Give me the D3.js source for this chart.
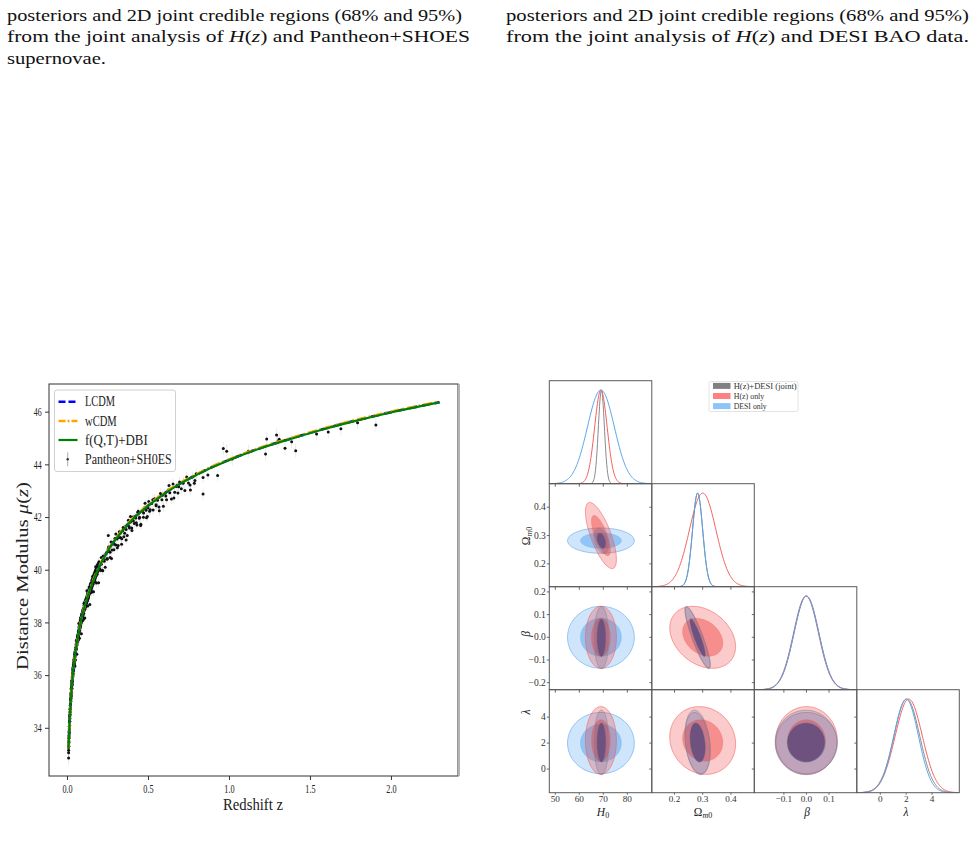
<!DOCTYPE html>
<html lang="en">
<head>
<meta charset="UTF-8">
<title>Distance modulus and posterior corner plot</title>
<script src="https://unpkg.com/d3@7.8.0/dist/d3.min.js"></script>
<style>
  body { margin: 0; background: #fff; }
  svg { display: block; }
</style>
</head>
<body>
<script>
// ---------- page text ----------
const captionLeft = [
  'posteriors and 2D joint credible regions (68% and 95%)',
  'from the joint analysis of H(z) and Pantheon+SHOES',
  'supernovae.'
];
const captionRight = [
  'posteriors and 2D joint credible regions (68% and 95%)',
  'from the joint analysis of H(z) and DESI BAO data.'
];

// ---------- distance modulus chart ----------
const modelZ = [0.01, 0.015, 0.02, 0.03, 0.04, 0.05, 0.07, 0.1, 0.15, 0.2, 0.25, 0.3, 0.4, 0.5, 0.6, 0.7, 0.8, 0.9, 1.0, 1.2, 1.4, 1.6, 1.8, 2.0, 2.3];
const muLCDM = [33.2, 34.09, 34.73, 35.63, 36.28, 36.78, 37.56, 38.41, 39.4, 40.13, 40.71, 41.16, 41.89, 42.43, 42.89, 43.28, 43.61, 43.91, 44.17, 44.63, 45.01, 45.37, 45.69, 45.98, 46.36];
const muWCDM = [33.2, 34.09, 34.73, 35.64, 36.29, 36.79, 37.57, 38.42, 39.41, 40.14, 40.72, 41.17, 41.91, 42.45, 42.91, 43.3, 43.63, 43.93, 44.19, 44.65, 45.03, 45.39, 45.71, 46.0, 46.38];
const muFQT = [33.2, 34.09, 34.73, 35.63, 36.28, 36.78, 37.56, 38.4, 39.39, 40.12, 40.7, 41.15, 41.88, 42.42, 42.88, 43.27, 43.6, 43.9, 44.16, 44.62, 45.0, 45.36, 45.68, 45.97, 46.35];
const modelNames = ['LCDM', 'wCDM', 'f(Q,T)+DBI'];
const zTicks = [0, 0.5, 1.0, 1.5, 2.0];
const muTicks = [34, 36, 38, 40, 42, 44, 46];

// Pantheon+SH0ES points: [z, mu, sigma_mu]
const pantheon = [
  [0.010,33.05,.25],[0.010,32.85,.25],[0.010,33.3,.25],[0.010,33.15,.25],[0.011,33.5,.25],[0.011,33.3,.25],
  [0.012,33.7,.25],[0.012,33.45,.25],[0.012,33.6,.25],[0.013,33.85,.25],[0.013,33.65,.25],[0.014,34.05,.25],
  [0.014,33.8,.25],[0.014,33.95,.25],[0.015,34.2,.25],[0.015,33.95,.25],[0.016,34.35,.25],[0.016,34.1,.25],
  [0.016,34.25,.25],[0.017,34.45,.25],[0.017,34.25,.25],[0.018,34.6,.25],[0.018,34.35,.25],[0.018,34.5,.25],
  [0.019,34.7,.25],[0.019,34.5,.25],[0.020,34.85,.25],[0.020,34.6,.25],[0.020,34.75,.25],[0.021,34.9,.25],
  [0.021,34.7,.25],[0.022,35.05,.25],[0.022,34.8,.25],[0.022,34.95,.25],[0.023,35.1,.25],[0.023,34.9,.25],
  [0.024,35.25,.25],[0.024,35.0,.25],[0.024,35.15,.25],[0.025,35.3,.25],[0.025,35.1,.25],[0.026,35.45,.25],
  [0.026,35.2,.25],[0.026,35.35,.25],[0.027,35.5,.25],[0.027,35.25,.25],[0.028,35.6,.25],[0.028,35.35,.25],
  [0.028,35.5,.25],[0.029,35.65,.25],[0.029,35.45,.25],[0.030,35.75,.25],[0.030,35.5,.25],[0.030,35.65,.25],
  [0.031,35.8,.25],[0.031,35.6,.25],[0.032,35.9,.25],[0.032,35.65,.25],[0.032,35.8,.25],[0.033,35.95,.25],
  [0.033,35.75,.25],[0.034,36.05,.25],[0.034,35.8,.25],[0.034,35.9,.25],[0.035,36.1,.25],[0.035,35.9,.25],
  [0.036,36.2,.25],[0.036,35.95,.25],[0.036,36.05,.25],[0.037,36.25,.25],[0.037,36.0,.25],[0.038,36.3,.25],
  [0.038,36.05,.25],[0.038,36.2,.25],[0.039,36.35,.25],[0.039,36.15,.25],[0.040,36.4,.25],[0.040,36.2,.25],
  [0.040,36.3,.25],[0.041,36.45,.25],[0.041,36.25,.25],[0.042,36.5,.25],[0.042,36.3,.25],[0.043,36.55,.25],
  [0.043,36.35,.25],[0.043,36.45,.25],[0.044,36.6,.25],[0.044,36.4,.25],[0.045,36.65,.25],[0.045,36.45,.25],
  [0.046,36.7,.25],[0.046,36.5,.25],[0.046,36.6,.25],[0.047,36.75,.25],[0.047,36.55,.25],[0.048,36.8,.25],
  [0.048,36.6,.25],[0.049,36.35,.25],[0.049,36.85,.25],[0.050,36.9,.2],[0.050,36.7,.2],[0.052,36.95,.2],
  [0.052,36.8,.2],[0.054,37.05,.2],[0.054,36.85,.2],[0.056,37.15,.2],[0.056,36.95,.2],[0.058,37.2,.2],
  [0.058,37.0,.2],[0.060,37.3,.2],[0.060,37.1,.2],[0.062,37.35,.2],[0.062,37.15,.2],[0.064,37.45,.2],
  [0.064,37.25,.2],[0.066,37.5,.2],[0.066,37.3,.2],[0.068,37.55,.2],[0.068,37.35,.2],[0.070,37.65,.2],
  [0.070,37.45,.2],[0.072,37.7,.2],[0.072,37.5,.2],[0.074,37.8,.2],[0.074,37.6,.2],[0.076,37.85,.2],
  [0.076,37.65,.2],[0.078,37.9,.2],[0.078,37.7,.2],[0.080,38.0,.2],[0.080,37.8,.2],[0.082,38.05,.2],
  [0.082,37.85,.2],[0.084,38.1,.2],[0.084,37.9,.2],[0.086,38.15,.2],[0.086,37.95,.2],[0.088,38.2,.2],
  [0.088,38.0,.2],[0.090,38.25,.2],[0.090,38.05,.2],[0.092,38.3,.2],[0.092,38.1,.2],[0.094,38.35,.2],
  [0.094,38.15,.2],[0.096,38.4,.2],[0.096,38.2,.2],[0.098,38.45,.2],[0.098,38.25,.2],[0.100,38.5,.18],
  [0.100,38.3,.18],[0.100,38.4,.18],[0.103,38.55,.18],[0.103,38.35,.18],[0.106,38.65,.18],[0.106,38.45,.18],
  [0.109,38.7,.18],[0.109,38.5,.18],[0.112,38.8,.18],[0.112,38.55,.18],[0.115,38.85,.18],[0.115,38.6,.18],
  [0.115,38.7,.18],[0.118,38.9,.18],[0.118,38.7,.18],[0.121,38.95,.18],[0.121,38.75,.18],[0.124,39.0,.18],
  [0.124,38.8,.18],[0.127,39.1,.18],[0.127,38.85,.18],[0.130,39.15,.18],[0.130,38.9,.18],[0.130,39.0,.18],
  [0.133,39.2,.18],[0.133,38.95,.18],[0.136,39.25,.18],[0.136,39.05,.18],[0.139,39.3,.18],[0.139,39.1,.18],
  [0.142,39.35,.18],[0.142,39.15,.18],[0.145,39.45,.18],[0.145,39.2,.18],[0.145,39.3,.18],[0.148,39.5,.18],
  [0.148,39.25,.18],[0.151,39.5,.16],[0.151,39.3,.16],[0.154,39.6,.16],[0.154,39.35,.16],[0.157,39.65,.16],
  [0.157,39.4,.16],[0.160,39.7,.16],[0.160,39.45,.16],[0.160,39.55,.16],[0.163,39.75,.16],[0.163,39.5,.16],
  [0.166,39.8,.16],[0.166,39.55,.16],[0.169,39.85,.16],[0.169,39.6,.16],[0.172,39.9,.16],[0.172,39.65,.16],
  [0.175,39.95,.16],[0.175,39.7,.16],[0.175,39.8,.16],[0.178,40.0,.16],[0.178,39.75,.16],[0.181,40.05,.16],
  [0.181,39.8,.16],[0.184,40.1,.16],[0.184,39.85,.16],[0.187,40.15,.16],[0.187,39.9,.16],[0.190,40.2,.16],
  [0.190,39.95,.16],[0.190,40.05,.16],[0.194,40.25,.16],[0.194,40.0,.16],[0.198,40.3,.16],[0.198,40.05,.16],
  [0.052,36.57,.2],[0.057,37.30,.2],[0.061,36.79,.2],[0.065,37.44,.2],[0.069,37.32,.2],[0.073,37.96,.2],
  [0.077,37.40,.2],[0.081,37.80,.2],[0.085,38.19,.2],[0.089,37.57,.2],[0.093,38.32,.2],[0.097,38.07,.2],
  [0.101,38.12,.18],[0.105,38.73,.18],[0.110,38.17,.18],[0.114,38.76,.18],[0.119,38.62,.18],[0.123,39.20,.18],
  [0.128,38.62,.18],[0.132,38.97,.18],[0.137,39.34,.18],[0.141,38.68,.18],[0.146,39.42,.18],[0.150,39.14,.18],
  [0.155,39.17,.16],[0.159,39.75,.16],[0.164,39.16,.16],[0.168,39.72,.16],[0.173,39.55,.16],[0.177,40.11,.16],
  [0.182,39.50,.16],[0.186,39.83,.16],[0.191,40.18,.16],[0.195,39.51,.16],
  [0.200,40.20,.15],[0.206,39.97,.15],[0.212,40.21,.15],[0.218,39.98,.15],[0.224,40.52,.15],[0.230,40.32,.15],
  [0.236,40.09,.15],[0.242,40.61,.15],[0.248,40.40,.15],[0.254,40.79,.15],[0.255,41.30,.15],[0.260,40.69,.15],
  [0.266,40.46,.15],[0.272,41.05,.15],[0.278,40.75,.15],[0.284,40.99,.15],[0.290,40.76,.15],[0.296,41.19,.15],
  [0.302,40.94,.15],[0.309,41.17,.15],[0.316,40.92,.15],[0.323,41.44,.15],[0.330,41.22,.15],[0.337,40.97,.15],
  [0.344,41.48,.15],[0.351,41.25,.15],[0.358,41.63,.15],[0.365,41.53,.15],[0.372,41.30,.15],[0.379,41.88,.15],
  [0.386,41.58,.15],[0.393,41.81,.15],[0.400,41.58,.15],[0.408,42.00,.15],[0.416,41.75,.15],[0.424,41.96,.15],
  [0.432,41.70,.15],[0.440,42.22,.15],[0.448,41.99,.15],[0.456,41.73,.15],[0.464,42.23,.15],[0.472,41.99,.15],
  [0.480,42.36,.15],[0.488,42.26,.15],[0.496,42.02,.15],[0.505,42.59,.2],[0.514,42.28,.2],[0.523,42.51,.2],
  [0.532,42.27,.2],[0.541,42.69,.2],[0.550,42.43,.2],[0.559,42.64,.2],[0.568,42.38,.2],[0.577,42.89,.2],
  [0.586,42.66,.2],[0.595,42.41,.2],[0.605,42.90,.2],[0.615,42.66,.2],[0.625,43.03,.2],[0.635,42.92,.2],
  [0.645,42.68,.2],[0.655,43.25,.2],[0.665,42.94,.2],[0.675,43.16,.2],[0.685,42.91,.2],[0.695,43.33,.2],
  [0.706,43.07,.2],[0.717,43.28,.2],[0.728,43.01,.2],[0.739,43.52,.2],[0.750,43.29,.2],[0.762,43.03,.2],
  [0.774,43.52,.2],[0.786,43.28,.2],[0.798,43.64,.2],
  [0.203,40.03,.15],[0.212,40.46,.15],[0.221,39.96,.15],[0.230,40.39,.15],[0.239,40.60,.15],[0.248,40.43,.15],
  [0.257,40.86,.15],[0.266,40.66,.15],[0.275,40.43,.15],[0.284,41.01,.15],[0.293,40.97,.15],[0.302,41.36,.15],
  [0.311,40.83,.15],[0.320,41.22,.15],[0.329,41.38,.15],[0.338,41.18,.15],[0.347,41.60,.15],[0.356,41.38,.15],
  [0.365,41.13,.15],[0.374,41.69,.15],[0.383,41.64,.15],[0.392,42.02,.15],[0.401,41.49,.15],[0.410,41.85,.15],
  [0.419,42.00,.15],[0.428,41.78,.15],[0.437,42.18,.15],[0.446,41.95,.15],[0.455,41.68,.15],[0.464,42.23,.15],
  [0.473,42.15,.15],[0.482,42.52,.15],[0.491,41.97,.15],[0.500,42.34,.2],
  [0.510,42.22,.2],[0.530,42.66,.2],[0.550,42.47,.2],[0.570,42.24,.2],[0.590,42.83,.2],[0.610,42.80,.2],
  [0.630,43.20,.2],[0.660,42.72,.2],[0.690,43.15,.2],[0.720,43.36,.2],[0.760,43.22,.2],[0.790,43.39,.2],
  [0.840,42.87,.2],[0.840,43.5,.2],[0.870,43.6,.2],[0.930,43.58,.2],[0.965,44.6,.25],[0.986,44.5,.25],
  [1.020,44.2,.25],[1.120,44.5,.25],[1.226,44.39,.25],[1.233,44.96,.25],[1.294,45.11,.25],[1.300,44.86,.25],
  [1.310,44.95,.25],[1.346,44.61,.25],[1.387,44.86,.25],[1.412,44.52,.25],[1.541,45.15,.25],[1.613,45.23,.25],
  [1.691,45.35,.25],[1.794,45.58,.25],[1.907,45.49,.25]
];

// ---------- corner plot ----------
const paramRanges = [[47.5, 90.2], [0.1195, 0.483], [-0.231, 0.223], [-1.82, 6.11]];
const xTickVals = [[50, 60, 70, 80], [0.2, 0.3, 0.4], [-0.1, 0.0, 0.1], [0, 2, 4]];
const yTickVals = [[], [0.2, 0.3, 0.4], [-0.2, -0.1, 0.0, 0.1, 0.2], [0, 2, 4]];
const runNames = ['H(z)+DESI (joint)', 'H(z) only', 'DESI only'];
const runMeans = [[69.2, 0.282, -0.002, 2.05], [69.0, 0.300, 0.0, 2.2], [69.0, 0.282, 0.0, 2.0]];
const runSigmas = [[1.25, 0.018, 0.055, 1.0], [2.6, 0.047, 0.055, 1.05], [5.6, 0.018, 0.055, 0.95]];
// correlations: H0-Om, H0-beta, H0-lambda, Om-beta, Om-lambda, beta-lambda
const runCorr = [[-0.35, 0, 0, -0.88, -0.25, 0], [-0.72, 0, 0, -0.3, -0.1, 0], [0, 0, 0, -0.9, -0.25, 0]];

// ---------- styles ----------
const serif = '"Liberation Serif", "Times New Roman", serif';
const modelStyle = [
  { color: '#0000ff', dash: '8,5', width: 2.6 },
  { color: '#ffa500', dash: '9,3,2,3', width: 2.6 },
  { color: '#008000', dash: null, width: 2.2 }
];
const runFill = ['#45407a', '#f03c3c', '#4aa0f0'];
const runLine = ['#8a8a8a', '#f25f5f', '#5aa2e8'];
const runAlpha = [[0.17, 0.62], [0.27, 0.42], [0.27, 0.46]];
const legendPatch = ['#808080', '#ff8080', '#8cc6f8'];

const svg = d3.select('body').append('svg').attr('width', 978).attr('height', 842);
svg.append('rect').attr('width', 978).attr('height', 842).attr('fill', '#fff');

drawCaption(captionLeft, 7, [455, 463, 99]);
drawCaption(captionRight, 506, [463, 463]);
drawHubble();
drawCorner();

function drawCaption(lines, x0, widths) {
  lines.forEach((line, i) => {
    const t = svg.append('text')
      .attr('x', x0).attr('y', 20.7 + i * 21.6)
      .attr('font-family', serif).attr('font-size', 17.5).attr('fill', '#111');
    line.split('H(z)').forEach((piece, k) => {
      if (k > 0) {
        t.append('tspan').attr('font-style', 'italic').text('H');
        t.append('tspan').text('(');
        t.append('tspan').attr('font-style', 'italic').text('z');
        t.append('tspan').text(')');
      }
      t.append('tspan').text(piece);
    });
    t.attr('textLength', widths[i]).attr('lengthAdjust', 'spacingAndGlyphs');
  });
}

function narrow(sel, factor) {
  // squeeze text horizontally like the reference figure
  sel.each(function () {
    const w = this.getComputedTextLength();
    d3.select(this).attr('textLength', w * factor).attr('lengthAdjust', 'spacingAndGlyphs');
  });
}

function drawHubble() {
  const m = { left: 49, top: 384, right: 458, bottom: 776 };
  const x = d3.scaleLinear().domain([-0.111, 2.414]).range([m.left, m.right]);
  const y = d3.scaleLinear().domain([32.17, 47.05]).range([m.bottom, m.top]);
  const g = svg.append('g');

  // x axis
  const xAxisG = g.append('g').attr('transform', `translate(0,${m.bottom})`)
    .call(d3.axisBottom(x).tickValues(zTicks).tickFormat(d3.format('.1f'))
      .tickSize(4).tickPadding(4).tickSizeOuter(0));
  xAxisG.selectAll('.tick text')
    .attr('font-family', serif).attr('font-size', 12).attr('fill', '#222');
  narrow(xAxisG.selectAll('.tick text'), 0.68);

  // y axis
  const yAxisG = g.append('g').attr('transform', `translate(${m.left},0)`)
    .call(d3.axisLeft(y).tickValues(muTicks).tickFormat(d3.format('d'))
      .tickSize(4).tickPadding(3.3).tickSizeOuter(0));
  yAxisG.selectAll('.tick text')
    .attr('font-family', serif).attr('font-size', 12).attr('fill', '#222');
  narrow(yAxisG.selectAll('.tick text'), 0.66);
  g.selectAll('.tick line').attr('stroke', '#333');
  g.selectAll('.domain').attr('stroke', 'none');

  // data with error bars
  const pts = g.append('g');
  pts.selectAll('line').data(pantheon).join('line')
    .attr('x1', d => x(d[0])).attr('x2', d => x(d[0]))
    .attr('y1', d => y(d[1] - d[2])).attr('y2', d => y(d[1] + d[2]))
    .attr('stroke', '#a0a0a0').attr('stroke-width', 0.5).attr('stroke-opacity', 0.45);
  pts.selectAll('circle').data(pantheon).join('circle')
    .attr('cx', d => x(d[0])).attr('cy', d => y(d[1])).attr('r', 1.5)
    .attr('fill', '#111');

  // model curves
  const line = d3.line().x(d => x(d[0])).y(d => y(d[1])).curve(d3.curveMonotoneX);
  [muLCDM, muWCDM, muFQT].forEach((mu, k) => {
    g.append('path').datum(modelZ.map((z, i) => [z, mu[i]]))
      .attr('d', line).attr('fill', 'none')
      .attr('stroke', modelStyle[k].color).attr('stroke-width', modelStyle[k].width)
      .attr('stroke-dasharray', modelStyle[k].dash);
  });

  // frame
  g.append('rect').attr('x', m.left).attr('y', m.top)
    .attr('width', m.right - m.left).attr('height', m.bottom - m.top)
    .attr('fill', 'none').attr('stroke', '#333').attr('stroke-width', 1);
  g.append('line').attr('x1', m.right + 1).attr('x2', m.right + 1)
    .attr('y1', m.top).attr('y2', m.bottom)
    .attr('stroke', '#b4b4b4').attr('stroke-width', 2);

  // axis labels
  g.append('text').attr('x', 253).attr('y', 810).attr('text-anchor', 'middle')
    .attr('font-family', serif).attr('font-size', 17.5).attr('fill', '#222')
    .attr('textLength', 60).attr('lengthAdjust', 'spacingAndGlyphs')
    .text('Redshift z');
  const yl = g.append('text').attr('transform', 'translate(28,576) rotate(-90)')
    .attr('text-anchor', 'middle')
    .attr('font-family', serif).attr('font-size', 17.5).attr('fill', '#222')
    .attr('textLength', 188).attr('lengthAdjust', 'spacingAndGlyphs');
  yl.append('tspan').text('Distance Modulus ');
  yl.append('tspan').attr('font-style', 'italic').text('μ');
  yl.append('tspan').text('(');
  yl.append('tspan').attr('font-style', 'italic').text('z');
  yl.append('tspan').text(')');

  // legend
  const lg = g.append('g');
  lg.append('rect').attr('x', 54.5).attr('y', 390).attr('width', 121).attr('height', 81.5)
    .attr('rx', 2.5).attr('fill', '#fff').attr('fill-opacity', 0.85)
    .attr('stroke', '#d0d0d0').attr('stroke-width', 1);
  const rowY = [401.7, 421, 440, 459.3];
  const textW = [30, 31.7, 62.7, 86.7];
  modelNames.forEach((name, k) => {
    lg.append('line').attr('x1', 58.5).attr('x2', 77.5).attr('y1', rowY[k]).attr('y2', rowY[k])
      .attr('stroke', modelStyle[k].color).attr('stroke-width', modelStyle[k].width)
      .attr('stroke-dasharray', k === 1 ? '7,2,2,2' : modelStyle[k].dash ? '7,3' : null);
  });
  lg.append('line').attr('x1', 67.7).attr('x2', 67.7).attr('y1', rowY[3] - 7).attr('y2', rowY[3] + 7)
    .attr('stroke', '#9a9a9a').attr('stroke-width', 0.8);
  lg.append('circle').attr('cx', 67.7).attr('cy', rowY[3]).attr('r', 1.2).attr('fill', '#333');
  modelNames.concat(['Pantheon+SH0ES']).forEach((name, k) => {
    lg.append('text').attr('x', 85).attr('y', rowY[k] + 4.6)
      .attr('font-family', serif).attr('font-size', 14).attr('fill', '#222')
      .attr('textLength', textW[k]).attr('lengthAdjust', 'spacingAndGlyphs')
      .text(name);
  });
}

function pairIndex(a, b) {
  const pairs = [[0, 1], [0, 2], [0, 3], [1, 2], [1, 3], [2, 3]];
  return pairs.findIndex(p => p[0] === a && p[1] === b);
}

function ellipsePoints(mx, my, sx, sy, r, k) {
  return d3.range(0, 97).map(t => {
    const a = t / 96 * 2 * Math.PI;
    return [mx + k * sx * Math.cos(a), my + k * sy * (r * Math.cos(a) + Math.sqrt(1 - r * r) * Math.sin(a))];
  });
}

function drawCorner() {
  const left = 549.3, top = 380.7, cw = 102.5, ch = 103;
  const k68 = Math.sqrt(2.3), k95 = Math.sqrt(6.17);
  const fmt = [d3.format('d'), d3.format('.1f'), d3.format('.1f'), d3.format('d')];
  const fillOrder = [2, 1, 0]; // DESI underneath, joint on top
  const lineOrder = [0, 1, 2]; // 1D: joint underneath, DESI on top
  const defs = svg.append('defs');

  for (let i = 0; i < 4; i++) {
    for (let j = 0; j <= i; j++) {
      const g = svg.append('g').attr('transform', `translate(${left + j * cw},${top + i * ch})`);
      const clipId = `clip-${i}-${j}`;
      defs.append('clipPath').attr('id', clipId)
        .append('rect').attr('width', cw).attr('height', ch);
      const body = g.append('g').attr('clip-path', `url(#${clipId})`);
      const xs = d3.scaleLinear().domain(paramRanges[j]).range([0, cw]);

      if (i === j) {
        const ys = d3.scaleLinear().domain([0, 1.1]).range([ch, 0]);
        const [lo, hi] = paramRanges[j];
        const grid = d3.range(0, 201).map(n => lo + (hi - lo) * n / 200);
        lineOrder.forEach(r => {
          const mu = runMeans[r][j], s = runSigmas[r][j];
          body.append('path')
            .datum(grid.map(v => [v, Math.exp(-0.5 * ((v - mu) / s) ** 2)]))
            .attr('d', d3.line().x(d => xs(d[0])).y(d => ys(d[1])))
            .attr('fill', 'none').attr('stroke', runLine[r]).attr('stroke-width', 1);
        });
      } else {
        const ys = d3.scaleLinear().domain(paramRanges[i]).range([ch, 0]);
        const pi = pairIndex(j, i);
        const path = d3.line().x(d => xs(d[0])).y(d => ys(d[1])).curve(d3.curveLinearClosed);
        fillOrder.forEach(r => {
          const args = [runMeans[r][j], runMeans[r][i], runSigmas[r][j], runSigmas[r][i], runCorr[r][pi]];
          body.append('path').datum(ellipsePoints(...args, k95)).attr('d', path)
            .attr('fill', runFill[r]).attr('fill-opacity', runAlpha[r][0])
            .attr('stroke', runLine[r]).attr('stroke-opacity', 0.7).attr('stroke-width', 0.8);
          body.append('path').datum(ellipsePoints(...args, k68)).attr('d', path)
            .attr('fill', runFill[r]).attr('fill-opacity', runAlpha[r][1])
            .attr('stroke', runLine[r]).attr('stroke-opacity', 0.5).attr('stroke-width', 0.6);
        });
      }
      // tick marks
      const tickLen = i === 3 ? 2 : 3;
      xTickVals[j].forEach(v => {
        g.append('line').attr('x1', xs(v)).attr('x2', xs(v)).attr('y1', ch).attr('y2', ch + tickLen)
          .attr('stroke', '#444').attr('stroke-width', 0.8);
      });
      if (i > 0) {
        const ysT = d3.scaleLinear().domain(paramRanges[i]).range([ch, 0]);
        yTickVals[i].forEach(v => {
          g.append('line').attr('x1', -2.5).attr('x2', 0).attr('y1', ysT(v)).attr('y2', ysT(v))
            .attr('stroke', '#444').attr('stroke-width', 0.8);
          if (j === 0) {
            g.append('text').attr('x', -3.5).attr('y', ysT(v)).attr('dy', '0.33em')
              .attr('text-anchor', 'end').attr('font-family', serif).attr('font-size', 9.5)
              .attr('fill', '#333').text(fmt[i](v));
          }
        });
      }
      if (i === 3) {
        xTickVals[j].forEach(v => {
          g.append('text').attr('x', xs(v)).attr('y', ch + 9.8).attr('text-anchor', 'middle')
            .attr('font-family', serif).attr('font-size', 9.2).attr('fill', '#333').text(fmt[j](v));
        });
      }
      g.append('rect').attr('width', cw).attr('height', ch)
        .attr('fill', 'none').attr('stroke', '#5a5a5a').attr('stroke-width', 1);
    }
  }

  // parameter labels
  const xLab = [603, 703, 807, 906];
  [0, 1, 2, 3].forEach(p => addParamLabel(svg.append('text')
    .attr('x', xLab[p]).attr('y', 815.5).attr('text-anchor', 'middle'), p));
  const yLab = [null, 536, 634, 712];
  [1, 2, 3].forEach(p => addParamLabel(svg.append('text')
    .attr('transform', `translate(530,${yLab[p]}) rotate(-90)`).attr('text-anchor', 'middle'), p));

  // legend
  const lg = svg.append('g');
  lg.append('rect').attr('x', 709).attr('y', 381.5).attr('width', 89).attr('height', 30)
    .attr('fill', '#fff').attr('stroke', '#dcdcdc').attr('stroke-width', 0.8).attr('rx', 1.5);
  const rows = [385.9, 396, 406.1];
  const tw = [63, 30.6, 33];
  runNames.forEach((name, r) => {
    lg.append('rect').attr('x', 713).attr('y', rows[r] - 3).attr('width', 17.5).attr('height', 6)
      .attr('fill', legendPatch[r]);
    lg.append('text').attr('x', 733.7).attr('y', rows[r] + 2.7)
      .attr('font-family', serif).attr('font-size', 8.2).attr('fill', '#333')
      .attr('textLength', tw[r]).attr('lengthAdjust', 'spacingAndGlyphs').text(name);
  });
}

function addParamLabel(t, p) {
  t.attr('font-family', serif).attr('font-size', 11.5).attr('fill', '#222');
  if (p === 0) {
    t.append('tspan').attr('font-style', 'italic').text('H');
    t.append('tspan').attr('font-size', 8).attr('dy', 2.3).text('0');
  } else if (p === 1) {
    t.append('tspan').text('Ω');
    t.append('tspan').attr('font-size', 8).attr('dy', 2.3).attr('font-style', 'italic').text('m');
    t.append('tspan').attr('font-size', 8).text('0');
  } else if (p === 2) {
    t.append('tspan').attr('font-style', 'italic').text('β');
  } else {
    t.append('tspan').attr('font-style', 'italic').text('λ');
  }
}
</script>
</body>
</html>
